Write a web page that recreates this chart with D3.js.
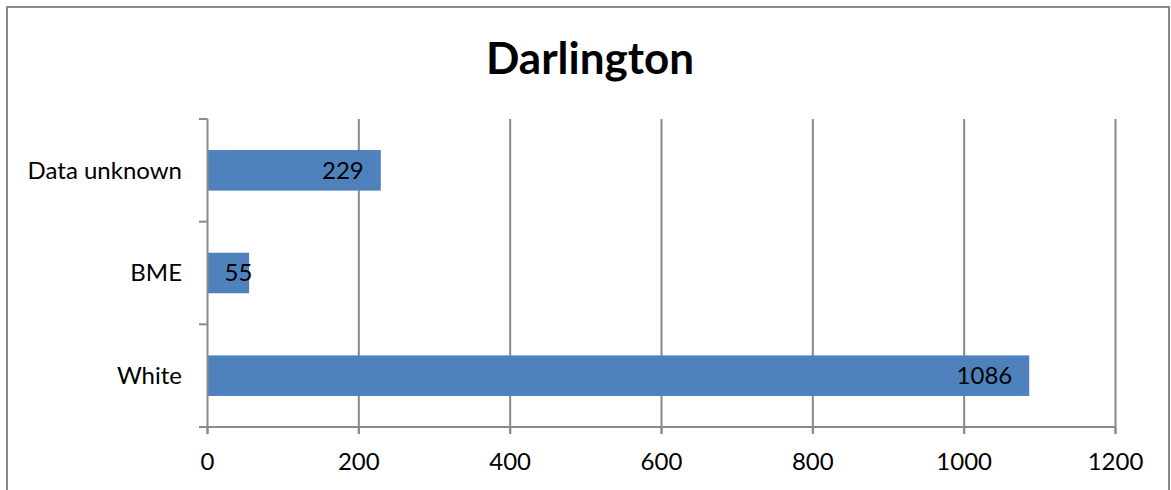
<!DOCTYPE html>
<html>
<head>
<meta charset="utf-8">
<script src="https://cdn.jsdelivr.net/npm/d3@7"></script>
<style>
  html, body { margin: 0; padding: 0; background: #fff; }
  svg { display: block; font-family: Lato, "Open Sans", sans-serif; }
</style>
</head>
<body>
<svg id="chart" width="1171" height="490"></svg>
<script>
// Darlington: counts by ethnicity
const categories = ["Data unknown", "BME", "White"];
const values = [229, 55, 1086];
const xTicks = [0, 200, 400, 600, 800, 1000, 1200];
const title = "Darlington";

const svg = d3.select("#chart");
const gridColor = "#8a8a8a";
const labelSize = 24;

// outer chart frame
svg.append("rect")
  .attr("x", 7).attr("y", 7)
  .attr("width", 1162).attr("height", 500)
  .attr("fill", "#fff")
  .attr("stroke", gridColor).attr("stroke-width", 2);

svg.append("text")
  .attr("x", 590).attr("y", 74)
  .attr("text-anchor", "middle")
  .attr("font-weight", "bold")
  .attr("font-size", 44)
  .text(title);

const x = d3.scaleLinear().domain([0, 1200]).range([207.5, 1115.5]);
const y = d3.scaleBand().domain(categories).range([119, 427])
  .paddingInner(0.605).paddingOuter(0.3025);

const g = svg.append("g");

// vertical gridlines
g.selectAll("line.grid").data(xTicks.filter(d => d > 0)).join("line")
  .attr("class", "grid")
  .attr("x1", d => x(d)).attr("x2", d => x(d))
  .attr("y1", 119).attr("y2", 434)
  .attr("stroke", gridColor).attr("stroke-width", 2);

// bars
g.selectAll("rect.bar").data(categories).join("rect")
  .attr("class", "bar")
  .attr("x", x(0))
  .attr("y", d => y(d))
  .attr("width", (d, i) => x(values[i]) - x(0))
  .attr("height", y.bandwidth())
  .attr("fill", "#4f81bd");

// x axis line and ticks
g.append("line")
  .attr("x1", x(0)).attr("x2", x(1200))
  .attr("y1", 427).attr("y2", 427)
  .attr("stroke", gridColor).attr("stroke-width", 2);
g.selectAll("line.xtick").data(xTicks).join("line")
  .attr("class", "xtick")
  .attr("x1", d => x(d)).attr("x2", d => x(d))
  .attr("y1", 427).attr("y2", 434)
  .attr("stroke", gridColor).attr("stroke-width", 2);
g.selectAll("text.xlab").data(xTicks).join("text")
  .attr("class", "xlab")
  .attr("x", d => x(d)).attr("y", 470)
  .attr("text-anchor", "middle")
  .attr("font-size", labelSize)
  .text(d => d);

// y axis line and category boundary ticks
g.append("line")
  .attr("x1", x(0)).attr("x2", x(0))
  .attr("y1", 119).attr("y2", 434)
  .attr("stroke", gridColor).attr("stroke-width", 2);
const bounds = d3.range(categories.length + 1).map(i => 119 + i * y.step());
g.selectAll("line.ytick").data(bounds).join("line")
  .attr("class", "ytick")
  .attr("x1", 199).attr("x2", x(0))
  .attr("y1", d => d).attr("y2", d => d)
  .attr("stroke", gridColor).attr("stroke-width", 2);
g.selectAll("text.ylab").data(categories).join("text")
  .attr("class", "ylab")
  .attr("x", 182)
  .attr("y", d => y(d) + y.bandwidth() / 2)
  .attr("dy", "0.35em")
  .attr("text-anchor", "end")
  .attr("font-size", labelSize)
  .text(d => d);

// value labels, inside end of each bar
g.selectAll("text.val").data(categories).join("text")
  .attr("class", "val")
  .attr("y", d => y(d) + y.bandwidth() / 2)
  .attr("dy", "0.35em")
  .attr("font-size", labelSize)
  .text((d, i) => values[i])
  .each(function(d, i) {
    const w = this.getComputedTextLength();
    const start = Math.max(x(values[i]) - 17 - w, x(0) + 17);
    d3.select(this).attr("x", start);
  });
</script>
</body>
</html>
